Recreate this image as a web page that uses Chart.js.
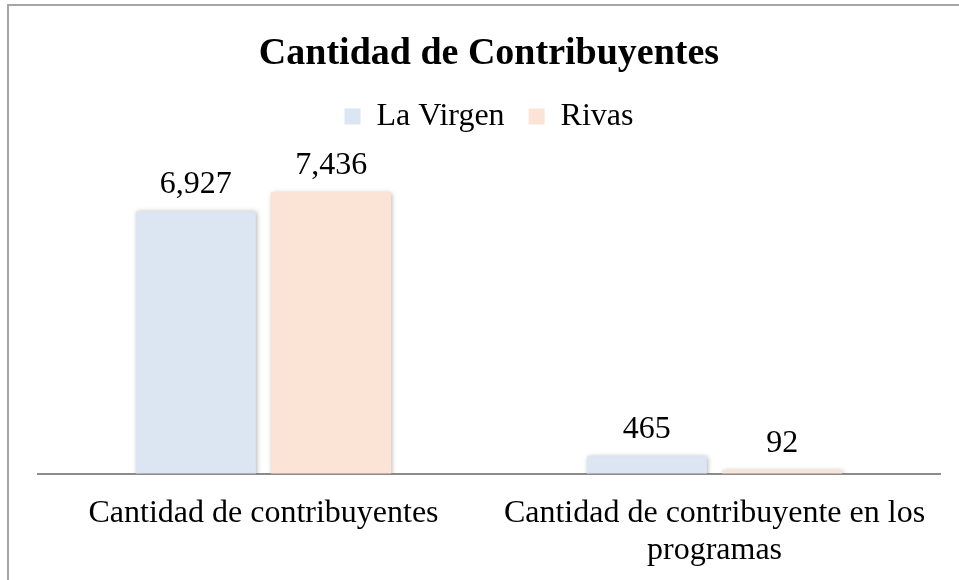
<!DOCTYPE html>
<html>
<head>
<meta charset="utf-8">
<script src="https://cdn.jsdelivr.net/npm/chart.js@4"></script>
<style>
  html, body { margin: 0; padding: 0; background: #fff; overflow: hidden; }
  #frame { position: absolute; left: 7px; top: 4px; width: 1200px; height: 800px; border: 2px solid #a6a6a6; }
  #wrap { position: absolute; left: 0; top: 0; width: 959px; height: 580px; }
</style>
</head>
<body>
<div id="frame"></div>
<div id="wrap"><canvas id="chart"></canvas></div>
<script>
const categories = [
  'Cantidad de contribuyentes',
  ['Cantidad de contribuyente en los', 'programas']
];
const seriesNames = ['La Virgen', 'Rivas'];
const laVirgen = [6927, 465];
const rivas = [7436, 92];
const yMax = 8000;

const fontFamily = '"Liberation Serif", "Times New Roman", serif';

// value labels above each bar + soft shadow like the original
const barLabels = {
  id: 'barLabels',
  beforeDatasetDraw(chart) {
    const ctx = chart.ctx;
    ctx.save();
    ctx.shadowColor = 'rgba(0,0,0,0.35)';
    ctx.shadowBlur = 5;
    ctx.shadowOffsetX = 1;
    ctx.shadowOffsetY = 1;
  },
  afterDatasetDraw(chart) {
    chart.ctx.restore();
  },
  afterDatasetsDraw(chart) {
    const ctx = chart.ctx;
    ctx.save();
    ctx.font = '32px ' + fontFamily;
    ctx.fillStyle = '#000';
    ctx.textAlign = 'center';
    ctx.textBaseline = 'alphabetic';
    chart.data.datasets.forEach((ds, i) => {
      chart.getDatasetMeta(i).data.forEach((bar, j) => {
        ctx.fillText(ds.data[j].toLocaleString('en-US'), bar.x, bar.y - 18);
      });
    });
    ctx.restore();
  }
};

// extra room under the legend
const legendGap = {
  id: 'legendGap',
  beforeInit(chart) {
    const fit = chart.legend.fit;
    chart.legend.fit = function () {
      fit.call(this);
      this.height += 28;
    };
  }
};

new Chart(document.getElementById('chart'), {
  type: 'bar',
  data: {
    labels: categories,
    datasets: [
      { label: seriesNames[0], data: laVirgen, backgroundColor: '#dce6f2', borderWidth: 0 },
      { label: seriesNames[1], data: rivas, backgroundColor: '#fbe3d5', borderWidth: 0 }
    ]
  },
  options: {
    responsive: true,
    maintainAspectRatio: false,
    animation: false,
    categoryPercentage: 0.6,
    barPercentage: 0.887,
    layout: { padding: { left: 38, right: 19, top: 0, bottom: -10 } },
    plugins: {
      title: {
        display: true,
        text: 'Cantidad de Contribuyentes',
        color: '#000',
        font: { family: fontFamily, size: 38, weight: 'bold' },
        padding: { top: 31, bottom: 0 }
      },
      legend: {
        position: 'top',
        labels: {
          color: '#000',
          font: { family: fontFamily, size: 32 },
          boxWidth: 16,
          boxHeight: 16,
          padding: 24
        }
      },
      tooltip: { enabled: false }
    },
    scales: {
      x: {
        grid: { display: false, drawTicks: false },
        border: { display: true, color: '#8c8c8c', width: 2 },
        ticks: {
          color: '#000',
          font: { family: fontFamily, size: 32, lineHeight: 1.16 },
          padding: 21,
          maxRotation: 0,
          autoSkip: false
        }
      },
      y: {
        display: false,
        min: 0,
        max: yMax
      }
    }
  },
  plugins: [barLabels, legendGap]
});
</script>
</body>
</html>
